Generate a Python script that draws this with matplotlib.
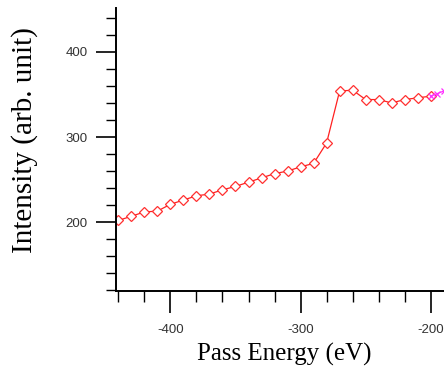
import numpy as np
import matplotlib
matplotlib.use("Agg")
import matplotlib.pyplot as plt
from matplotlib.ticker import MultipleLocator

plt.rcParams["axes.unicode_minus"] = False

# red series (diamonds)
energy = [-440, -430, -420, -410, -400, -390, -380, -370, -360, -350,
          -340, -330, -320, -310, -300, -290, -280, -270, -260, -250,
          -240, -230, -220, -210, -200]
intensity = [202, 207, 212, 213, 221, 226, 231, 233, 238, 242,
             247, 252, 257, 260, 265, 269, 293, 354, 355, 344,
             344, 340, 344, 346, 348]

# magenta series (clipped at right edge)
energy2 = [-200, -195, -190, -185]
intensity2 = [348, 351, 354, 356]

fig = plt.figure(figsize=(4.44, 3.85), dpi=100)
ax = fig.add_axes([116 / 444, 1 - 291 / 385, (444 - 116) / 444, (291 - 8) / 385])

ax.plot(energy, intensity, color="#ff2020", lw=0.9, marker="D", ms=4.8,
        mfc="white", mec="#ff3030", mew=0.9)
ax.plot(energy2, intensity2, color="#ff30ff", lw=0.9, marker="x", ms=4,
        mec="#ff30ff", mew=0.9)

ax.set_xlim(-441.8, -189.8)
ax.set_ylim(119.2, 451.5)

for s in ["top", "right"]:
    ax.spines[s].set_visible(False)
ax.spines["left"].set_linewidth(1.4)
ax.spines["bottom"].set_linewidth(1.4)

ax.xaxis.set_major_locator(MultipleLocator(100))
ax.xaxis.set_minor_locator(MultipleLocator(20))
ax.yaxis.set_major_locator(MultipleLocator(100))
ax.yaxis.set_minor_locator(MultipleLocator(20))

ax.tick_params(axis="x", which="major", direction="out", length=16, width=1.2, pad=8)
ax.tick_params(axis="x", which="minor", direction="out", length=8, width=1.0)
ax.tick_params(axis="y", which="major", direction="out", length=14.4, width=1.2, pad=6)
ax.tick_params(axis="y", which="minor", direction="out", length=7.2, width=1.0)

for lab in ax.get_xticklabels() + ax.get_yticklabels():
    lab.set_family("Liberation Sans")
    lab.set_fontsize(9.5)
    lab.set_color("#333333")

ax.set_xlabel("Pass Energy (eV)", family="Liberation Serif", fontsize=18)
ax.set_ylabel("Intensity (arb. unit)", family="Liberation Serif", fontsize=21)
ax.xaxis.set_label_coords(0.514, -0.184)
ax.yaxis.set_label_coords(-0.238, 0.534)

fig.savefig("out.png", dpi=100)
